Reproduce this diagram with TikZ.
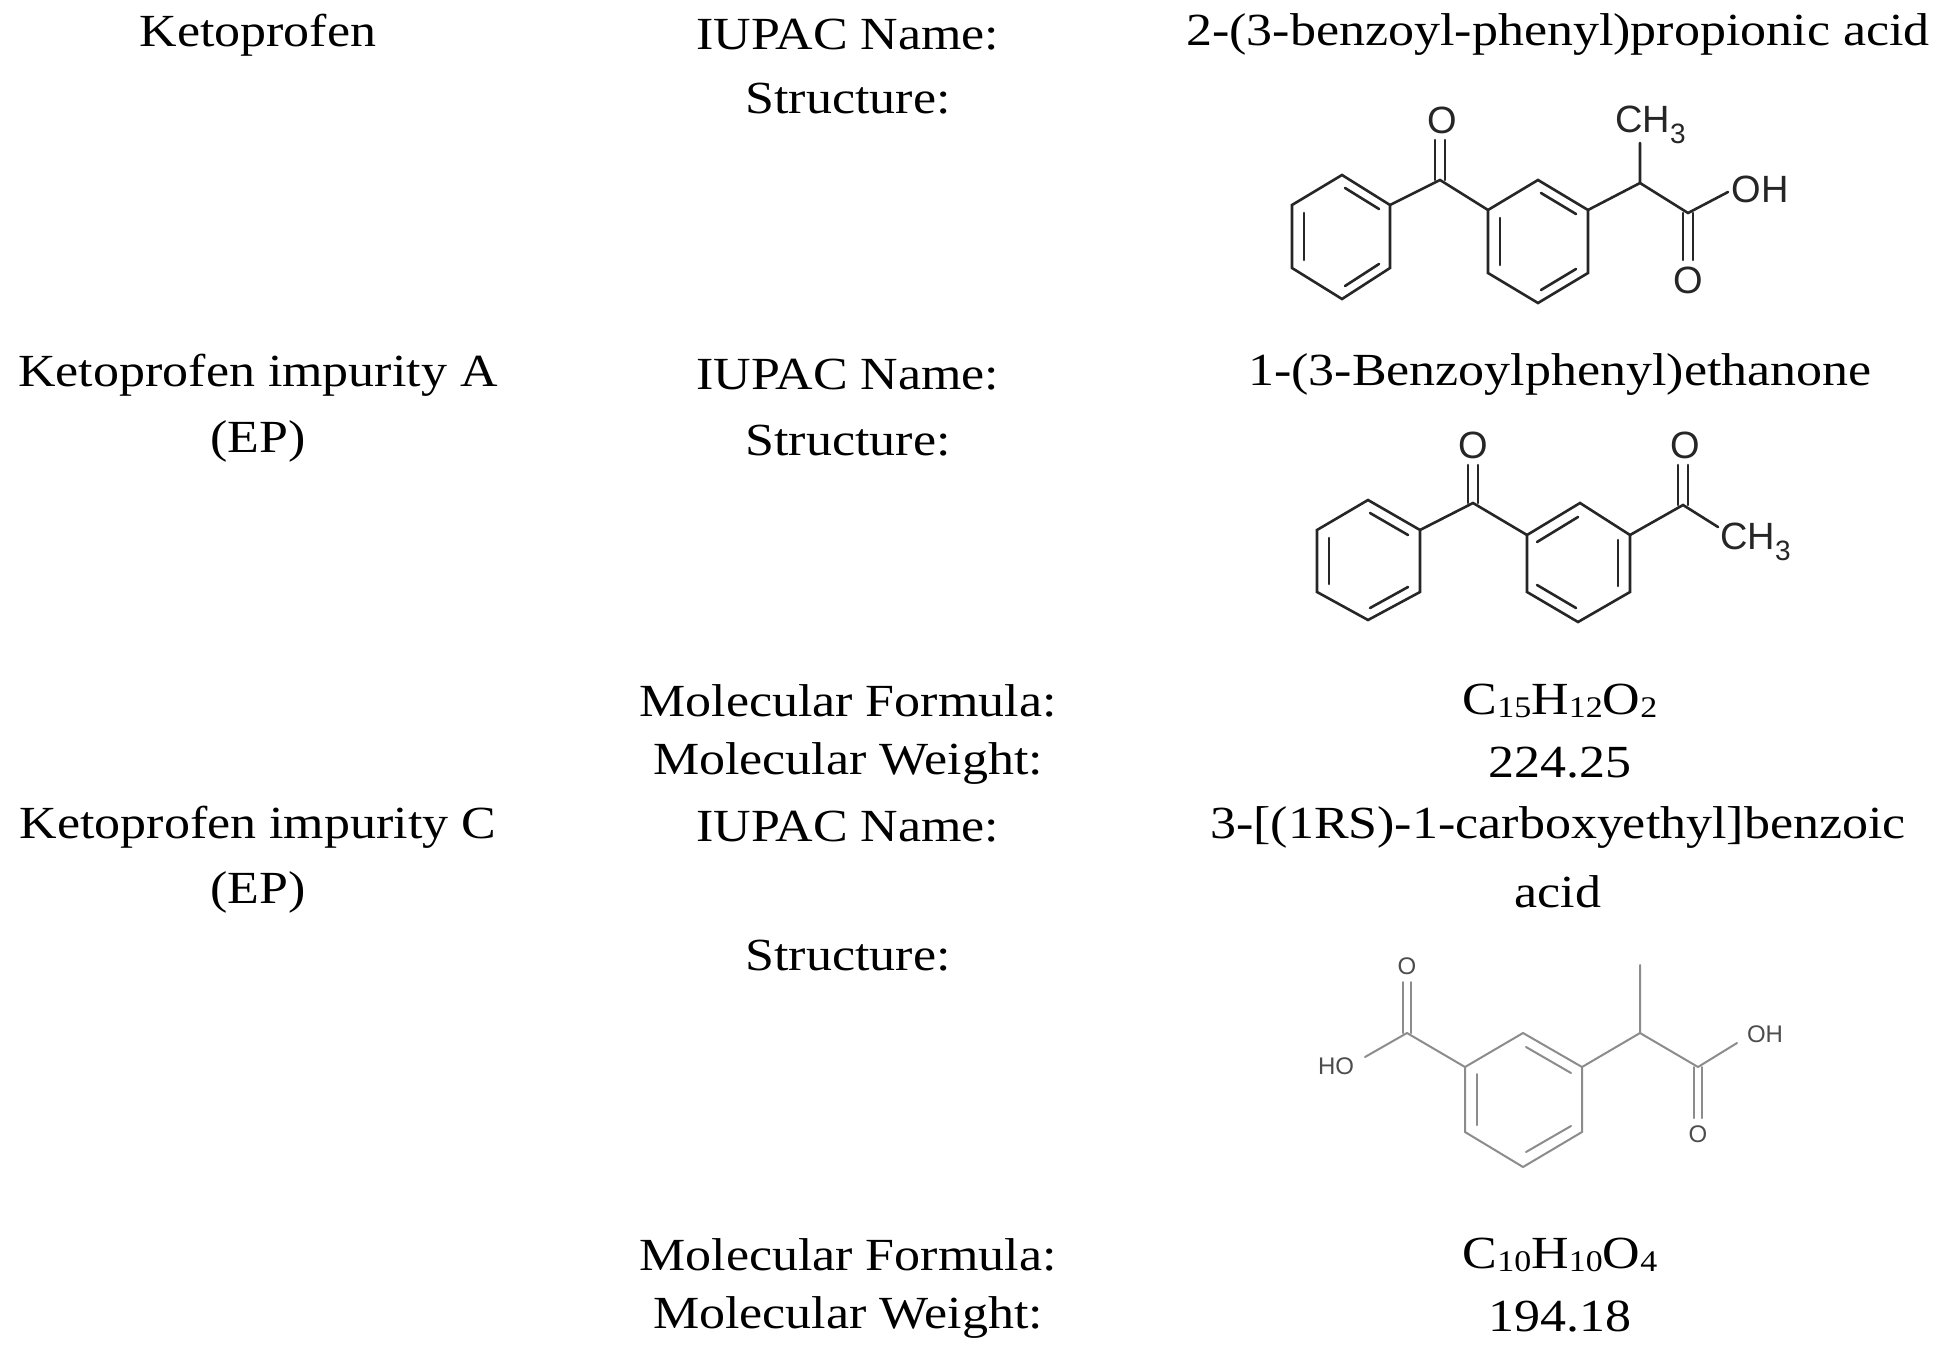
\documentclass[tikz,border=0pt]{standalone}
\usepackage{fontspec}
\setmainfont[FakeStretch=1.13]{Liberation Serif}
\newfontfamily\molfont{Liberation Sans}
\newcommand{\subn}[1]{{\fontsize{30}{30}\selectfont\raisebox{-0.12em}{#1}}}
\begin{document}
\begin{tikzpicture}[x=1pt,y=-1pt,
  txt/.style={font=\fontsize{46}{52}\selectfont, inner sep=0pt, anchor=center},
  bond/.style={line width=2.6pt, black!85, line cap=round},
  gbond/.style={line width=2pt, black!45, line cap=round},
  atm/.style={font=\molfont\fontsize{38}{38}\selectfont, inner sep=0pt, text=black!85},
  gatm/.style={font=\molfont\fontsize{24}{24}\selectfont, inner sep=0pt, text=black!70}]
\useasboundingbox (0,0) rectangle (1937,1356);
% column 1
\node[txt] (k) at (258,35) {Ketoprofen};
\node[txt] (ka1) at (258,375) {Ketoprofen impurity A};
\node[txt] (ka2) at (258,441) {(EP)};
\node[txt] (kc1) at (258,827) {Ketoprofen impurity C};
\node[txt] (kc2) at (258,892) {(EP)};
% column 2
\node[txt] (l1) at (848,35) {IUPAC Name:};
\node[txt] (l2) at (848,99) {Structure:};
\node[txt] (l3) at (848,375) {IUPAC Name:};
\node[txt] (l4) at (848,441) {Structure:};
\node[txt] (l5) at (848,701) {Molecular Formula:};
\node[txt] (l6) at (848,763) {Molecular Weight:};
\node[txt] (l7) at (848,827) {IUPAC Name:};
\node[txt] (l8) at (848,956) {Structure:};
\node[txt] (l9) at (848,1255) {Molecular Formula:};
\node[txt] (l10) at (848,1317) {Molecular Weight:};
% column 3
\node[txt] (v1) at (1558,35) {2-(3-benzoyl-phenyl)propionic acid};
\node[txt] (v2) at (1560,375) {1-(3-Benzoylphenyl)ethanone};
\node[txt] (v3) at (1560,701) {C\subn{15}H\subn{12}O\subn{2}};
\node[txt] (v4) at (1560,763) {224.25};
\node[txt] (v5) at (1558,827) {3-[(1RS)-1-carboxyethyl]benzoic};
\node[txt] (v6) at (1558,892) {acid};
\node[txt] (v7) at (1560,1255) {C\subn{10}H\subn{10}O\subn{4}};
\node[txt] (v8) at (1560,1317) {194.18};

% ---------- Ketoprofen ----------
\draw[bond] (1342,175)--(1390,205)--(1390,268)--(1342,299)--(1292,268)--(1292,205)--cycle;
\draw[bond] (1345,188)--(1379,209);
\draw[bond] (1379,264)--(1345,286);
\draw[bond] (1304,213)--(1304,260);
\draw[bond] (1390,205)--(1440,180)--(1488,210);
\draw[bond] (1435,180)--(1435,140);
\draw[bond] (1445,180)--(1445,140);
\node[atm] (o1) at (1442,120) {O};
\draw[bond] (1488,210)--(1538,180)--(1588,210)--(1588,273)--(1538,303)--(1488,273)--cycle;
\draw[bond] (1541,193)--(1576,214);
\draw[bond] (1576,269)--(1541,290);
\draw[bond] (1500,218)--(1500,265);
\draw[bond] (1588,210)--(1640,183)--(1640,143);
\node[atm,anchor=west] (ch3a) at (1615,125) {CH\raisebox{-0.3em}{\fontsize{28}{28}\selectfont 3}};
\draw[bond] (1640,183)--(1688,213)--(1728,192);
\node[atm] (oh1) at (1760,189) {OH};
\draw[bond] (1683,213)--(1683,260);
\draw[bond] (1693,213)--(1693,260);
\node[atm] (o2) at (1688,280) {O};

% ---------- Impurity A ----------
\draw[bond] (1368,500)--(1420,530)--(1420,592)--(1368,620)--(1317,592)--(1317,530)--cycle;
\draw[bond] (1370,513)--(1408,535);
\draw[bond] (1408,587)--(1370,608);
\draw[bond] (1329,538)--(1329,584);
\draw[bond] (1420,530)--(1473,503)--(1527,535);
\draw[bond] (1468,503)--(1468,465);
\draw[bond] (1478,503)--(1478,465);
\node[atm] (o3) at (1473,445) {O};
\draw[bond] (1527,535)--(1580,503)--(1630,535)--(1630,592)--(1578,622)--(1527,592)--cycle;
\draw[bond] (1537,542)--(1578,517);
\draw[bond] (1618,540)--(1618,586);
\draw[bond] (1537,585)--(1576,608);
\draw[bond] (1630,535)--(1683,505)--(1718,527);
\draw[bond] (1678,505)--(1678,465);
\draw[bond] (1688,505)--(1688,465);
\node[atm] (o4) at (1685,445) {O};
\node[atm,anchor=west] (ch3b) at (1720,542) {CH\raisebox{-0.3em}{\fontsize{28}{28}\selectfont 3}};

% ---------- Impurity C ----------
\draw[gbond] (1465,1067)--(1523,1033)--(1582,1067)--(1582,1132)--(1523,1167)--(1465,1132)--cycle;
\draw[gbond] (1526,1047)--(1571,1073);
\draw[gbond] (1571,1126)--(1526,1152);
\draw[gbond] (1477,1074)--(1477,1125);
\draw[gbond] (1465,1067)--(1407,1033)--(1365,1057);
\draw[gbond] (1403,1033)--(1403,982);
\draw[gbond] (1411,1033)--(1411,982);
\node[gatm] (o5) at (1407,966) {O};
\node[gatm] (ho) at (1336,1066) {HO};
\draw[gbond] (1582,1067)--(1640,1033)--(1640,965);
\draw[gbond] (1640,1033)--(1698,1067)--(1737,1043);
\node[gatm] (oh2) at (1765,1034) {OH};
\draw[gbond] (1694,1067)--(1694,1118);
\draw[gbond] (1702,1067)--(1702,1118);
\node[gatm] (o6) at (1698,1134) {O};
\end{tikzpicture}
\end{document}
